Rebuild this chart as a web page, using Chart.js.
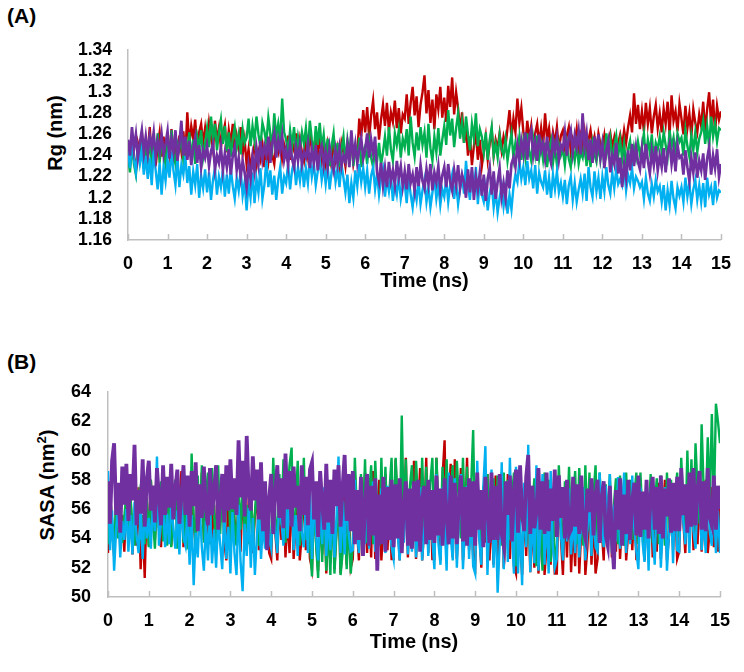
<!DOCTYPE html>
<html>
<head>
<meta charset="utf-8">
<script src="https://cdn.jsdelivr.net/npm/chart.js@4"></script>
<style>
  html, body { margin:0; padding:0; background:#fff; }
  body { width:744px; height:672px; position:relative; overflow:hidden; font-family:"Liberation Sans", Arial, sans-serif; }
  .panel { position:absolute; left:0; }
  .lbl { position:absolute; font-weight:bold; font-size:21px; line-height:1; color:#000; }
  .ytitle { position:absolute; font-weight:bold; font-size:20px; line-height:1; color:#000; white-space:nowrap; transform:translate(-50%,-50%) rotate(-90deg); }
  .ytitle sup { font-size:13px; line-height:0; vertical-align:8px; }
</style>
</head>
<body>
<div class="lbl" style="left:7px;top:5px;">(A)</div>
<div class="lbl" style="left:7px;top:351px;">(B)</div>
<div class="ytitle" style="left:55px;top:133px;">Rg (nm)</div>
<div class="ytitle" style="left:47px;top:485px;">SASA (nm<sup>2</sup>)</div>
<div class="panel" style="top:0;"><canvas id="cA" width="744" height="300"></canvas></div>
<div class="panel" style="top:330px;"><canvas id="cB" width="744" height="342"></canvas></div>
<script>
// ---------------- data ----------------
const TIME = [
0,0.05,0.1,0.15,0.2,0.25,0.3,0.35,0.4,0.45,0.5,0.55,0.6,0.65,0.7,0.75,0.8,0.85,0.9,0.95,
1,1.05,1.1,1.15,1.2,1.25,1.3,1.35,1.4,1.45,1.5,1.55,1.6,1.65,1.7,1.75,1.8,1.85,1.9,1.95,
2,2.05,2.1,2.15,2.2,2.25,2.3,2.35,2.4,2.45,2.5,2.55,2.6,2.65,2.7,2.75,2.8,2.85,2.9,2.95,
3,3.05,3.1,3.15,3.2,3.25,3.3,3.35,3.4,3.45,3.5,3.55,3.6,3.65,3.7,3.75,3.8,3.85,3.9,3.95,
4,4.05,4.1,4.15,4.2,4.25,4.3,4.35,4.4,4.45,4.5,4.55,4.6,4.65,4.7,4.75,4.8,4.85,4.9,4.95,
5,5.05,5.1,5.15,5.2,5.25,5.3,5.35,5.4,5.45,5.5,5.55,5.6,5.65,5.7,5.75,5.8,5.85,5.9,5.95,
6,6.05,6.1,6.15,6.2,6.25,6.3,6.35,6.4,6.45,6.5,6.55,6.6,6.65,6.7,6.75,6.8,6.85,6.9,6.95,
7,7.05,7.1,7.15,7.2,7.25,7.3,7.35,7.4,7.45,7.5,7.55,7.6,7.65,7.7,7.75,7.8,7.85,7.9,7.95,
8,8.05,8.1,8.15,8.2,8.25,8.3,8.35,8.4,8.45,8.5,8.55,8.6,8.65,8.7,8.75,8.8,8.85,8.9,8.95,
9,9.05,9.1,9.15,9.2,9.25,9.3,9.35,9.4,9.45,9.5,9.55,9.6,9.65,9.7,9.75,9.8,9.85,9.9,9.95,
10,10.05,10.1,10.15,10.2,10.25,10.3,10.35,10.4,10.45,10.5,10.55,10.6,10.65,10.7,10.75,10.8,10.85,10.9,10.95,
11,11.05,11.1,11.15,11.2,11.25,11.3,11.35,11.4,11.45,11.5,11.55,11.6,11.65,11.7,11.75,11.8,11.85,11.9,11.95,
12,12.05,12.1,12.15,12.2,12.25,12.3,12.35,12.4,12.45,12.5,12.55,12.6,12.65,12.7,12.75,12.8,12.85,12.9,12.95,
13,13.05,13.1,13.15,13.2,13.25,13.3,13.35,13.4,13.45,13.5,13.55,13.6,13.65,13.7,13.75,13.8,13.85,13.9,13.95,
14,14.05,14.1,14.15,14.2,14.25,14.3,14.35,14.4,14.45,14.5,14.55,14.6,14.65,14.7,14.75,14.8,14.85,14.9,14.95,
15];

const X_TICKS = [0,1,2,3,4,5,6,7,8,9,10,11,12,13,14,15];
const Y_TICKS_A = [1.16,1.18,1.2,1.22,1.24,1.26,1.28,1.3,1.32,1.34];
const Y_TICKS_B = [50,52,54,56,58,60,62,64];

const SERIES_NAMES = ['Red', 'Green', 'Blue', 'Purple'];
const SERIES_COLORS = ['#C00000', '#00B050', '#00B0F0', '#7030A0'];

// (A) Rg (nm)
const RG_RED = [
1.248,1.231,1.259,1.238,1.226,1.252,1.244,1.262,1.233,1.250,
1.241,1.267,1.236,1.255,1.230,1.249,1.262,1.239,1.258,1.234,
1.252,1.240,1.265,1.237,1.247,1.233,1.259,1.244,1.263,1.238,
1.281,1.250,1.268,1.256,1.274,1.247,1.262,1.270,1.252,1.266,
1.249,1.271,1.257,1.245,1.273,1.254,1.266,1.248,1.260,1.269,
1.243,1.264,1.251,1.270,1.239,1.258,1.246,1.267,1.241,1.255,
1.232,1.246,1.227,1.241,1.250,1.230,1.244,1.236,1.249,1.229,
1.248,1.235,1.256,1.240,1.232,1.253,1.244,1.258,1.237,1.250,
1.241,1.259,1.236,1.252,1.245,1.261,1.238,1.255,1.243,1.235,
1.256,1.240,1.261,1.246,1.237,1.254,1.242,1.259,1.236,1.250,
1.233,1.251,1.240,1.229,1.254,1.236,1.247,1.231,1.252,1.243,
1.230,1.250,1.237,1.254,1.233,1.246,1.240,1.275,1.258,1.283,
1.262,1.286,1.257,1.278,1.292,1.265,1.281,1.255,1.274,1.288,
1.268,1.290,1.263,1.281,1.272,1.292,1.266,1.285,1.261,1.279,
1.275,1.298,1.270,1.290,1.305,1.278,1.296,1.267,1.288,1.300,
1.316,1.280,1.302,1.271,1.293,1.265,1.298,1.284,1.305,1.276,
1.295,1.272,1.306,1.286,1.314,1.279,1.300,1.285,1.262,1.281,
1.252,1.267,1.240,1.258,1.231,1.249,1.262,1.236,1.255,1.230,
1.244,1.258,1.236,1.251,1.264,1.240,1.255,1.247,1.261,1.245,
1.258,1.249,1.266,1.283,1.257,1.275,1.262,1.294,1.271,1.285,
1.263,1.248,1.273,1.255,1.268,1.245,1.261,1.270,1.251,1.266,
1.249,1.280,1.256,1.266,1.246,1.262,1.252,1.267,1.245,1.259,
1.264,1.248,1.259,1.267,1.244,1.256,1.250,1.265,1.243,1.258,
1.247,1.262,1.242,1.255,1.264,1.249,1.258,1.244,1.261,1.251,
1.246,1.259,1.243,1.254,1.261,1.248,1.257,1.242,1.252,1.260,
1.249,1.264,1.252,1.267,1.278,1.262,1.299,1.270,1.288,1.265,
1.282,1.263,1.290,1.270,1.285,1.261,1.277,1.288,1.266,1.280,
1.262,1.284,1.270,1.291,1.259,1.297,1.273,1.282,1.263,1.289,
1.275,1.260,1.287,1.266,1.280,1.258,1.284,1.271,1.262,1.279,
1.268,1.291,1.263,1.284,1.300,1.270,1.293,1.262,1.287,1.274,
1.282];
const RG_GREEN = [
1.240,1.224,1.251,1.232,1.222,1.246,1.236,1.255,1.228,1.243,
1.235,1.258,1.229,1.250,1.241,1.261,1.233,1.254,1.245,1.231,
1.256,1.238,1.264,1.242,1.232,1.252,1.246,1.260,1.235,1.249,
1.243,1.262,1.236,1.255,1.232,1.258,1.247,1.264,1.238,1.251,
1.266,1.248,1.277,1.255,1.270,1.245,1.262,1.274,1.251,1.268,
1.244,1.262,1.239,1.256,1.267,1.248,1.260,1.241,1.265,1.252,
1.257,1.275,1.249,1.268,1.254,1.277,1.260,1.248,1.271,1.263,
1.252,1.276,1.261,1.248,1.280,1.258,1.270,1.254,1.294,1.262,
1.255,1.243,1.264,1.249,1.267,1.242,1.258,1.246,1.262,1.251,
1.266,1.244,1.273,1.255,1.242,1.268,1.250,1.271,1.247,1.260,
1.238,1.256,1.230,1.249,1.261,1.235,1.252,1.229,1.246,1.258,
1.233,1.255,1.241,1.261,1.230,1.248,1.236,1.257,1.229,1.244,
1.249,1.232,1.254,1.238,1.229,1.247,1.235,1.252,1.231,1.243,
1.258,1.240,1.267,1.246,1.235,1.261,1.250,1.264,1.238,1.256,
1.248,1.265,1.240,1.277,1.252,1.239,1.262,1.245,1.267,1.250,
1.262,1.238,1.270,1.247,1.235,1.258,1.243,1.266,1.240,1.255,
1.268,1.250,1.283,1.259,1.275,1.248,1.266,1.280,1.256,1.272,
1.252,1.277,1.260,1.245,1.270,1.256,1.280,1.249,1.265,1.258,
1.243,1.262,1.236,1.255,1.267,1.240,1.251,1.238,1.259,1.246,
1.240,1.255,1.235,1.249,1.261,1.238,1.252,1.244,1.258,1.236,
1.253,1.238,1.261,1.244,1.235,1.256,1.241,1.259,1.237,1.250,
1.236,1.252,1.229,1.245,1.254,1.233,1.248,1.231,1.250,1.240,
1.246,1.231,1.251,1.237,1.229,1.248,1.235,1.250,1.232,1.243,
1.238,1.254,1.230,1.247,1.229,1.252,1.241,1.234,1.250,1.236,
1.252,1.237,1.261,1.243,1.256,1.235,1.249,1.259,1.240,1.254,
1.236,1.251,1.229,1.246,1.254,1.233,1.248,1.238,1.253,1.241,
1.249,1.261,1.237,1.255,1.243,1.260,1.235,1.252,1.246,1.258,
1.244,1.262,1.250,1.239,1.264,1.248,1.257,1.241,1.261,1.253,
1.257,1.240,1.264,1.249,1.239,1.259,1.245,1.262,1.243,1.256,
1.262,1.273,1.251,1.268,1.248,1.277,1.258,1.270,1.253,1.266,
1.264];
const RG_BLUE = [
1.245,1.228,1.258,1.236,1.224,1.250,1.233,1.246,1.222,1.240,
1.218,1.238,1.212,1.245,1.226,1.208,1.233,1.203,1.230,1.216,
1.236,1.219,1.244,1.226,1.212,1.238,1.210,1.231,1.222,1.240,
1.214,1.230,1.203,1.225,1.212,1.232,1.200,1.221,1.209,1.227,
1.205,1.224,1.198,1.217,1.228,1.203,1.220,1.210,1.226,1.201,
1.222,1.204,1.228,1.211,1.199,1.219,1.207,1.226,1.202,1.215,
1.188,1.214,1.200,1.224,1.195,1.218,1.205,1.228,1.199,1.212,
1.236,1.210,1.226,1.203,1.221,1.198,1.217,1.229,1.204,1.220,
1.214,1.232,1.208,1.226,1.235,1.212,1.229,1.216,1.233,1.210,
1.228,1.214,1.238,1.220,1.233,1.212,1.225,1.236,1.217,1.230,
1.213,1.231,1.208,1.224,1.235,1.215,1.228,1.210,1.232,1.219,
1.205,1.222,1.195,1.214,1.200,1.226,1.211,1.232,1.215,1.228,
1.210,1.226,1.204,1.221,1.229,1.208,1.223,1.203,1.218,1.227,
1.201,1.218,1.206,1.222,1.197,1.214,1.203,1.220,1.199,1.211,
1.213,1.195,1.219,1.203,1.191,1.210,1.198,1.216,1.194,1.207,
1.217,1.196,1.210,1.191,1.205,1.219,1.199,1.213,1.193,1.208,
1.201,1.218,1.196,1.212,1.222,1.199,1.215,1.194,1.209,1.220,
1.204,1.235,1.212,1.198,1.226,1.206,1.229,1.194,1.218,1.203,
1.196,1.210,1.188,1.205,1.213,1.191,1.207,1.186,1.200,1.211,
1.192,1.207,1.185,1.203,1.189,1.210,1.222,1.215,1.235,1.218,
1.229,1.212,1.235,1.218,1.226,1.209,1.231,1.204,1.224,1.215,
1.210,1.226,1.203,1.219,1.200,1.222,1.208,1.225,1.205,1.214,
1.201,1.217,1.194,1.212,1.220,1.198,1.214,1.196,1.208,1.218,
1.204,1.223,1.197,1.229,1.210,1.201,1.225,1.206,1.219,1.199,
1.220,1.206,1.229,1.212,1.204,1.224,1.209,1.227,1.213,1.218,
1.212,1.229,1.207,1.222,1.214,1.228,1.209,1.220,1.216,1.210,
1.215,1.199,1.219,1.204,1.197,1.213,1.201,1.217,1.206,1.211,
1.196,1.212,1.188,1.207,1.193,1.216,1.199,1.190,1.210,1.202,
1.210,1.196,1.219,1.201,1.214,1.194,1.208,1.217,1.198,1.212,
1.196,1.214,1.191,1.219,1.203,1.210,1.193,1.216,1.200,1.207,
1.205];
const RG_PURPLE = [
1.255,1.240,1.267,1.246,1.260,1.238,1.252,1.264,1.243,1.258,
1.242,1.259,1.248,1.262,1.239,1.254,1.244,1.260,1.241,1.251,
1.263,1.237,1.256,1.244,1.264,1.235,1.251,1.273,1.240,1.258,
1.236,1.254,1.231,1.247,1.257,1.233,1.250,1.229,1.245,1.238,
1.249,1.230,1.244,1.251,1.227,1.240,1.233,1.248,1.226,1.242,
1.229,1.246,1.222,1.240,1.248,1.226,1.238,1.220,1.235,1.224,
1.210,1.231,1.218,1.239,1.225,1.247,1.232,1.254,1.236,1.249,
1.240,1.258,1.233,1.252,1.261,1.238,1.255,1.244,1.259,1.236,
1.246,1.231,1.251,1.237,1.229,1.248,1.235,1.250,1.232,1.243,
1.238,1.251,1.228,1.246,1.233,1.250,1.226,1.242,1.249,1.231,
1.244,1.229,1.248,1.235,1.226,1.245,1.232,1.247,1.230,1.240,
1.234,1.250,1.229,1.264,1.238,1.251,1.233,1.246,1.256,1.237,
1.245,1.261,1.238,1.255,1.242,1.258,1.224,1.215,1.233,1.212,
1.228,1.210,1.234,1.216,1.226,1.212,1.235,1.219,1.230,1.211,
1.225,1.208,1.232,1.214,1.222,1.207,1.229,1.211,1.231,1.216,
1.209,1.227,1.213,1.232,1.207,1.224,1.215,1.230,1.208,1.221,
1.229,1.210,1.232,1.215,1.207,1.226,1.212,1.231,1.209,1.222,
1.215,1.200,1.227,1.205,1.229,1.198,1.220,1.208,1.224,1.202,
1.222,1.197,1.218,1.229,1.203,1.225,1.199,1.215,1.228,1.201,
1.214,1.200,1.226,1.209,1.232,1.238,1.229,1.250,1.236,1.254,
1.242,1.262,1.236,1.257,1.264,1.240,1.253,1.235,1.260,1.245,
1.252,1.237,1.258,1.241,1.233,1.255,1.244,1.257,1.236,1.250,
1.246,1.262,1.240,1.257,1.264,1.243,1.259,1.248,1.263,1.241,
1.280,1.248,1.261,1.236,1.255,1.233,1.258,1.242,1.260,1.238,
1.251,1.228,1.245,1.254,1.224,1.240,1.232,1.252,1.223,1.238,
1.210,1.232,1.219,1.245,1.226,1.251,1.230,1.248,1.234,1.227,
1.246,1.228,1.251,1.235,1.223,1.244,1.231,1.249,1.226,1.240,
1.229,1.247,1.224,1.243,1.251,1.232,1.246,1.225,1.250,1.238,
1.240,1.222,1.245,1.229,1.216,1.238,1.224,1.243,1.219,1.235,
1.226,1.242,1.217,1.237,1.248,1.222,1.240,1.228,1.246,1.220,
1.232];

// (B) SASA (nm^2)
const SASA_RED = [
53.0,57.4,54.6,52.8,56.3,57.5,53.3,55.6,53.1,57.0,
54.4,57.2,52.9,56.0,53.5,57.5,51.9,55.4,51.3,56.8,
53.5,58.0,55.2,53.9,57.4,54.6,53.4,57.9,55.0,53.7,
57.6,53.5,55.8,58.0,54.1,56.6,58.6,53.4,55.9,57.2,
53.6,58.3,55.0,53.4,57.5,54.8,58.5,53.9,56.4,53.5,
58.2,54.0,56.3,53.4,57.7,55.1,58.4,53.8,52.5,57.0,
53.0,57.4,55.3,53.6,56.5,53.1,57.5,54.4,53.2,56.8,
57.5,53.0,55.6,57.0,53.2,54.8,57.4,53.6,56.0,53.0,
52.6,57.5,54.4,52.5,56.6,53.9,57.3,52.7,55.5,53.0,
57.4,52.6,55.1,57.0,52.5,54.3,57.5,53.2,56.2,52.6,
51.9,57.5,53.8,51.8,56.4,52.9,57.3,51.6,55.2,52.3,
57.4,51.9,54.7,57.0,51.6,53.9,57.5,52.2,56.0,52.0,
52.6,58.3,54.8,52.5,57.4,55.6,58.5,53.0,56.2,52.7,
58.6,52.6,55.4,58.0,52.5,54.9,58.4,53.2,56.7,52.6,
52.6,59.4,55.1,52.5,58.0,53.9,59.5,52.7,56.6,53.3,
59.3,52.6,55.8,58.8,52.5,54.7,59.5,53.0,57.3,52.6,
52.6,59.5,54.9,52.5,58.2,60.7,53.0,56.4,59.1,52.7,
59.4,52.6,55.6,58.8,52.5,54.4,59.5,53.2,57.1,52.6,
52.1,58.5,54.6,52.0,57.3,53.7,58.4,52.5,56.0,52.2,
58.3,52.1,55.2,58.5,52.0,54.3,58.4,52.6,56.9,52.1,
51.6,57.5,53.9,51.5,56.4,52.8,57.4,51.7,55.3,52.0,
57.3,51.6,54.5,57.5,51.5,53.6,57.0,52.2,55.8,51.6,
51.6,57.5,54.1,51.5,56.3,52.7,57.4,51.7,55.0,52.1,
57.3,51.6,54.6,57.5,51.5,53.4,57.0,52.2,55.7,51.6,
52.6,58.0,54.7,52.5,57.1,53.9,57.9,52.7,56.0,53.1,
57.8,52.6,55.3,58.0,52.5,54.4,57.5,53.2,56.6,52.6,
52.6,58.0,54.9,52.5,56.8,53.6,57.9,52.7,55.4,53.1,
57.8,52.6,55.6,58.0,52.5,54.2,57.5,53.2,56.7,52.6,
53.1,58.0,55.2,53.0,57.0,54.6,57.9,53.2,56.1,53.6,
57.8,53.1,55.5,58.0,53.0,54.7,57.5,53.4,56.8,53.1,
57.0];
const SASA_GREEN = [
53.6,57.0,55.2,53.5,56.4,54.0,56.9,53.7,55.5,57.0,
53.6,56.8,54.9,53.5,56.2,57.0,53.9,55.6,53.6,56.7,
53.4,58.0,55.5,53.3,57.1,54.7,57.9,53.8,56.3,53.5,
57.8,53.4,55.9,58.0,53.3,54.6,57.5,53.7,56.8,53.4,
53.6,59.8,55.4,53.5,58.3,54.8,59.0,53.7,56.9,58.5,
53.6,58.8,55.6,53.5,59.0,54.3,57.9,53.9,56.4,58.7,
53.6,58.0,55.1,53.5,57.2,54.6,57.9,53.7,56.3,53.6,
57.8,53.6,55.7,58.0,53.5,54.4,57.5,53.9,56.6,53.6,
53.6,59.5,55.6,53.5,58.4,54.9,59.4,53.7,57.0,59.0,
60.2,53.6,56.1,59.3,53.5,55.0,59.5,53.9,57.4,53.6,
51.4,57.0,53.6,51.3,56.2,52.4,56.9,51.8,55.0,51.5,
56.8,51.6,54.3,57.0,51.5,53.0,56.5,51.9,55.6,51.6,
53.6,59.5,55.8,53.5,58.4,54.9,59.4,53.7,57.0,59.0,
53.6,59.3,56.0,53.5,59.5,54.6,58.9,53.9,57.3,59.5,
54.1,59.5,56.3,54.0,62.4,55.2,59.4,54.5,57.6,59.0,
54.1,59.3,56.5,54.0,59.5,55.0,58.9,54.4,57.8,59.5,
54.1,59.5,56.0,54.0,58.9,55.3,59.4,54.5,57.2,59.0,
54.1,59.3,56.6,54.0,59.5,55.1,58.9,54.4,57.5,61.4,
53.6,58.5,55.3,53.5,57.6,54.8,58.4,53.7,56.2,58.1,
53.6,58.3,55.7,53.5,58.5,54.4,58.0,53.9,56.8,58.5,
52.1,58.5,54.3,52.0,57.4,53.6,58.4,52.2,56.1,58.1,
52.1,58.3,54.8,51.8,58.5,53.3,58.0,52.4,56.5,52.0,
53.6,59.0,55.4,53.5,57.9,54.7,58.9,53.7,56.6,58.6,
53.6,58.8,55.9,53.5,59.0,54.5,58.5,53.9,57.0,59.0,
53.6,58.5,55.2,53.5,57.7,54.8,58.4,53.7,56.3,58.1,
53.6,58.3,55.6,53.5,58.5,54.4,58.0,53.9,56.9,58.5,
53.6,58.5,55.3,53.5,57.6,54.9,58.4,53.7,56.1,58.1,
53.6,58.3,55.8,53.5,58.5,54.2,58.0,53.9,56.7,58.5,
54.1,59.5,56.2,54.0,60.0,55.1,59.4,54.5,60.5,57.3,
55.0,61.8,57.3,55.6,60.9,56.4,62.5,56.0,63.2,62.0,
60.5];
const SASA_BLUE = [
58.6,53.2,55.9,51.8,54.6,56.3,52.7,55.2,53.9,56.0,
53.1,55.6,52.9,56.5,54.2,53.0,55.9,52.6,56.1,54.0,
55.4,53.3,56.4,54.5,59.6,53.5,55.1,56.2,53.4,55.7,
53.6,56.3,54.8,53.3,55.9,52.9,56.5,54.1,53.5,56.0,
52.2,55.6,50.8,54.4,52.7,56.0,53.4,51.8,55.2,52.5,
55.9,52.3,54.6,52.0,55.3,53.6,51.9,56.0,52.6,54.8,
51.6,55.8,53.0,51.5,56.3,52.4,50.4,55.0,52.8,56.1,
52.0,55.4,51.5,54.2,56.4,52.6,55.1,53.3,56.2,54.0,
53.3,57.4,54.6,53.0,56.8,55.2,53.5,57.5,54.0,56.3,
57.1,53.2,55.6,52.8,57.3,54.4,53.4,56.5,53.0,57.5,
52.6,57.2,54.2,52.5,56.4,53.6,57.5,52.8,55.5,53.2,
56.9,52.7,55.4,59.6,53.0,56.6,52.9,57.4,54.3,53.1,
53.2,58.0,54.6,53.0,57.1,55.5,53.6,57.8,53.3,56.4,
57.9,53.1,55.8,53.6,57.4,54.2,53.0,57.6,55.1,53.4,
52.6,57.5,54.3,52.5,56.2,53.7,57.4,52.9,55.6,53.1,
57.3,52.7,55.0,57.5,52.5,54.6,56.8,52.8,57.2,53.9,
51.9,58.4,53.6,52.2,57.5,55.0,51.8,58.5,54.1,52.5,
58.1,52.0,55.3,58.4,51.9,54.7,57.6,52.6,55.9,52.1,
51.6,59.3,53.9,52.2,57.6,60.3,51.5,55.4,58.7,52.0,
55.8,50.3,53.6,59.2,51.9,57.0,52.4,59.5,54.3,51.6,
58.9,51.6,55.2,50.8,57.8,53.4,60.4,51.7,56.1,52.3,
59.0,51.8,54.6,58.4,52.2,56.3,51.6,58.6,53.5,52.0,
52.6,57.5,54.3,52.5,56.6,53.8,57.4,52.9,55.5,53.0,
57.3,52.7,55.2,57.5,52.5,54.6,57.0,52.8,56.3,53.4,
53.1,58.5,55.0,53.4,57.6,54.5,58.4,53.0,56.3,53.8,
58.2,53.3,55.8,58.5,53.0,56.4,53.6,58.3,54.7,53.1,
51.9,57.5,53.8,52.4,56.2,51.8,57.3,54.4,52.2,56.9,
57.2,52.0,55.0,57.5,51.8,54.3,56.6,52.3,57.4,53.2,
53.1,57.5,55.2,53.6,56.4,53.0,57.4,54.5,53.3,56.7,
57.3,53.2,55.6,53.0,57.5,54.4,53.5,56.8,53.0,55.9,
53.0];
const SASA_PURPLE = [
57.9,55.0,59.3,60.5,55.6,57.8,54.4,58.9,56.3,59.1,
55.2,58.4,56.6,60.4,54.9,57.3,55.7,59.4,54.8,58.0,
59.3,55.9,57.6,55.1,58.8,56.8,54.9,59.0,55.6,58.2,
56.1,59.1,55.3,57.4,58.7,55.0,56.9,59.0,55.6,58.3,
54.8,58.6,56.2,59.2,54.5,57.7,55.4,58.9,56.0,54.9,
58.8,55.6,57.3,59.0,54.6,56.5,58.4,55.1,59.0,55.9,
59.4,56.0,58.1,55.6,60.7,56.8,59.3,55.5,61.0,57.0,
55.9,59.6,56.6,58.7,55.3,59.2,54.5,57.9,53.2,56.7,
58.4,54.3,57.2,59.0,55.4,58.1,54.7,59.8,56.0,58.6,
54.8,58.9,56.1,57.6,54.5,59.0,55.6,58.2,54.9,58.7,
59.2,55.3,57.9,54.1,58.6,56.4,54.6,59.1,55.1,58.0,
54.3,58.7,56.2,59.0,54.8,57.5,59.7,55.2,58.4,54.5,
58.6,53.6,57.3,53.9,58.2,52.8,56.4,58.4,53.5,57.6,
54.2,58.1,51.8,57.0,53.6,58.2,53.1,57.5,53.9,58.0,
53.4,57.7,54.0,58.1,53.0,56.3,57.9,53.5,57.4,53.3,
57.9,53.8,58.0,53.1,56.7,57.6,53.6,58.0,53.9,57.3,
53.7,58.3,54.2,57.4,53.5,58.1,55.6,53.6,58.3,54.0,
57.8,53.6,56.6,58.3,53.8,57.5,53.5,58.1,54.1,57.9,
53.5,58.5,54.6,57.3,53.4,58.2,55.9,53.7,58.5,53.9,
57.6,53.9,58.4,54.3,53.5,57.9,55.6,58.3,53.8,57.2,
58.7,54.4,59.0,55.6,54.5,58.2,59.7,54.3,57.6,54.7,
55.8,58.8,54.6,57.9,54.3,58.5,54.5,57.4,55.2,58.7,
54.1,58.3,55.4,57.5,54.0,58.0,54.3,54.6,58.2,54.8,
57.7,54.3,58.3,54.6,54.0,57.4,55.8,58.1,54.2,57.0,
58.0,53.7,56.8,57.9,54.2,53.5,57.6,54.1,51.9,57.3,
54.6,58.1,53.5,57.0,54.3,58.0,53.9,56.6,57.8,54.2,
58.3,54.1,57.2,54.6,58.0,54.0,56.9,58.2,54.6,57.5,
54.3,58.3,54.0,57.4,55.5,58.1,54.4,57.8,54.5,58.2,
54.5,58.8,55.6,57.7,54.4,58.5,54.8,58.8,54.9,57.4,
58.6,54.6,57.9,54.5,58.8,55.4,54.9,58.3,54.6,57.6,
56.0];

// ---------------- chart ----------------
const FONT = '"Liberation Sans", Arial, sans-serif';
const AXIS_COLOR = '#bfbfbf';

const innerTicks = {
  id: 'innerTicks',
  afterDraw(chart) {
    const xs = chart.scales.x;
    const ctx = chart.ctx;
    ctx.save();
    ctx.strokeStyle = AXIS_COLOR;
    ctx.lineWidth = 1.5;
    xs.ticks.forEach(t => {
      const px = Math.round(xs.getPixelForValue(t.value)) + 0.5;
      ctx.beginPath();
      ctx.moveTo(px, xs.top);
      ctx.lineTo(px, xs.top - 6);
      ctx.stroke();
    });
    ctx.restore();
  }
};

function buildDatasets(seriesList, widths) {
  // order: red, green, blue, purple (purple drawn on top)
  return seriesList.map((vals, k) => ({
    label: SERIES_NAMES[k],
    data: vals.map((v, i) => ({ x: TIME[i], y: v })),
    borderColor: SERIES_COLORS[k],
    backgroundColor: SERIES_COLORS[k],
    borderWidth: widths[k],
    borderJoinStyle: 'miter',
    pointRadius: 0,
    tension: 0,
    fill: false,
    order: 3 - k
  }));
}

function makeChart(id, seriesList, yTicks, geom) {
  return new Chart(document.getElementById(id), {
    type: 'line',
    data: { datasets: buildDatasets(seriesList, geom.lw) },
    options: {
      responsive: false,
      animation: false,
      devicePixelRatio: 1,
      layout: { padding: { left: 0, top: geom.top, right: geom.right, bottom: geom.bottom } },
      plugins: { legend: { display: false }, tooltip: { enabled: false } },
      scales: {
        x: {
          type: 'linear',
          min: 0, max: 15,
          afterBuildTicks: ax => { ax.ticks = X_TICKS.map(v => ({ value: v })); },
          afterFit: ax => { ax.height = geom.xH; },
          grid: { display: false, drawTicks: false },
          border: { display: true, color: AXIS_COLOR, width: 1.5 },
          ticks: { color: '#000', font: { family: FONT, size: 18, weight: 'bold' }, padding: geom.xPad, maxRotation: 0, autoSkip: false, callback: v => String(v) },
          title: { display: true, text: 'Time (ns)', color: '#000', font: { family: FONT, size: 20, weight: 'bold' }, padding: { top: 0, bottom: 4 } }
        },
        y: {
          type: 'linear',
          min: yTicks[0], max: yTicks[yTicks.length - 1],
          afterBuildTicks: ax => { ax.ticks = yTicks.map(v => ({ value: v })); },
          afterFit: ax => { ax.width = geom.yW; },
          grid: { display: false, drawTicks: false },
          border: { display: true, color: AXIS_COLOR, width: 1.5 },
          ticks: { color: '#000', font: { family: FONT, size: geom.yFont, weight: 'bold' }, padding: geom.yPad, autoSkip: false, callback: v => String(v) }
        }
      }
    },
    plugins: [innerTicks]
  });
}

makeChart('cA', [RG_RED, RG_GREEN, RG_BLUE, RG_PURPLE], Y_TICKS_A,
  { top: 50, right: 13, bottom: 3, xH: 57, yW: 128, xPad: 13, yPad: 16, yFont: 17.5, lw: [2.4, 2.4, 2.4, 2.7] });
makeChart('cB', [SASA_RED, SASA_GREEN, SASA_BLUE, SASA_PURPLE], Y_TICKS_B,
  { top: 62, right: 24, bottom: 14, xH: 61, yW: 108, xPad: 13, yPad: 17, yFont: 18, lw: [2.4, 2.4, 2.4, 3.8] });
</script>
</body>
</html>
